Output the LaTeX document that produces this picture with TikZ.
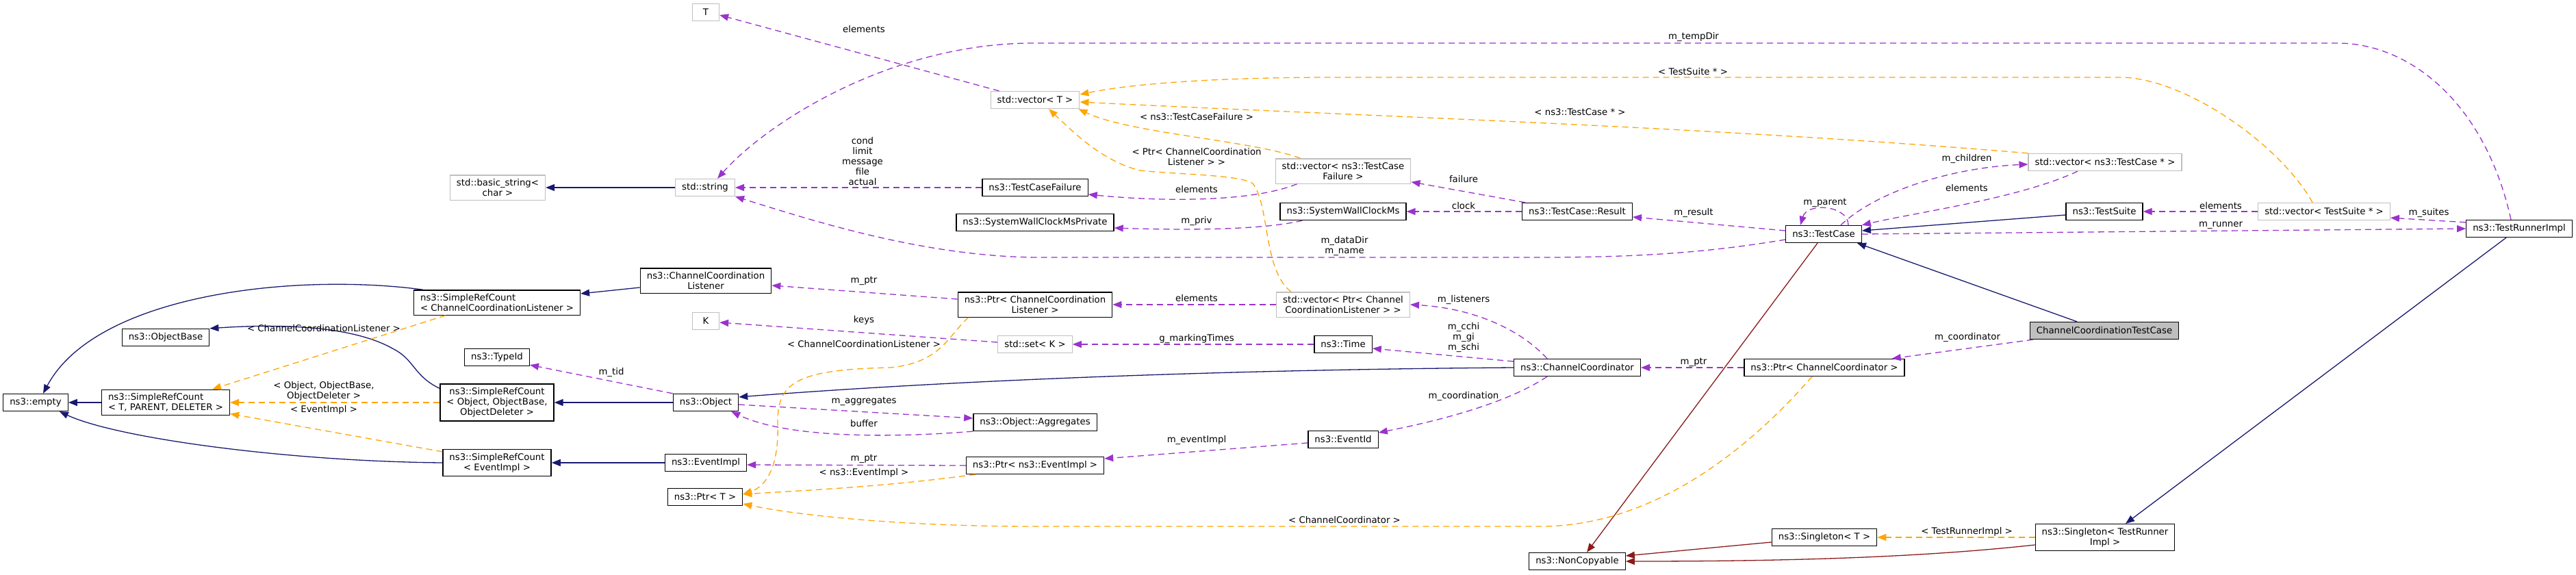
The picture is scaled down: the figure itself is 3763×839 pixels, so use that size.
\documentclass[tikz,border=0pt]{standalone}
\usepackage{fontspec}
\setmainfont{DejaVu Sans}
\usetikzlibrary{arrows.meta}
\definecolor{inhblue}{HTML}{191970}
\definecolor{privred}{HTML}{8B1A1A}
\definecolor{usepurple}{HTML}{9A32CD}
\definecolor{tmplorange}{HTML}{FFA500}
\definecolor{extgrey}{HTML}{BFBFBF}
\newcommand{\diafont}{\fontsize{13.3}{15}\selectfont}

\begin{document}
\begin{tikzpicture}[x=1pt, y=-1pt,
    cls/.style={rectangle, draw=black, line width=1.3pt, fill=white, font=\diafont, align=center,
        inner xsep=9.5pt, inner ysep=5.5pt, minimum height=25pt, minimum width=39pt},
    ext/.style={cls, draw=extgrey},
    hilite/.style={cls, fill=extgrey},
    lbl/.style={font=\diafont, align=center, inner sep=0pt},
    arrowhd/.style={-{Triangle[length=13pt, width=10pt]}},
    inh/.style={arrowhd, draw=inhblue, line width=1.3pt},
    priv/.style={arrowhd, draw=privred, line width=1.3pt},
    use/.style={arrowhd, draw=usepurple, line width=1.3pt, dash pattern=on 9pt off 6pt},
    tmpl/.style={arrowhd, draw=tmplorange, line width=1.3pt, dash pattern=on 9pt off 6pt}]
    \useasboundingbox (0, 0) rectangle (3763, 839);

    \node (empty) at (52, 588) [cls] {ns3::empty};
    \node (objbase) at (242, 493) [cls] {ns3::ObjectBase};
    \node (srcTPD) at (242, 588) [cls, align=left] {ns3::SimpleRefCount\\< T, PARENT, DELETER >};
    \node (srcCCL) at (726, 442) [cls, align=left] {ns3::SimpleRefCount\\< ChannelCoordinationListener >};
    \node (basicstr) at (727, 274) [ext] {std::basic\_string<\\char >};
    \node (typeid) at (726, 522) [cls] {ns3::TypeId};
    \node (srcObj) at (726, 588) [cls] {ns3::SimpleRefCount\\< Object, ObjectBase,\\ObjectDeleter >};
    \node (srcEvt) at (726, 676) [cls] {ns3::SimpleRefCount\\< EventImpl >};
    \node (tT) at (1031, 18) [ext] {T};
    \node (stdstr) at (1030, 274) [ext] {std::string};
    \node (ccl) at (1031, 410) [cls] {ns3::ChannelCoordination\\Listener};
    \node (kK) at (1031, 469) [ext] {K};
    \node (object) at (1031, 588) [cls] {ns3::Object};
    \node (eventimpl) at (1031, 676) [cls] {ns3::EventImpl};
    \node (ptrT) at (1030, 726) [cls] {ns3::Ptr< T >};
    \node (vecT) at (1512, 146) [ext] {std::vector< T >};
    \node (tcfail) at (1512, 274) [cls] {ns3::TestCaseFailure};
    \node (swcmPriv) at (1512, 325) [cls] {ns3::SystemWallClockMsPrivate};
    \node (ptrCCL) at (1512, 445) [cls] {ns3::Ptr< ChannelCoordination\\Listener >};
    \node (setK) at (1512, 503) [ext] {std::set< K >};
    \node (aggr) at (1512, 617) [cls] {ns3::Object::Aggregates};
    \node (ptrEvt) at (1512, 680) [cls] {ns3::Ptr< ns3::EventImpl >};
    \node (vecTCF) at (1962, 250) [ext] {std::vector< ns3::TestCase\\Failure >};
    \node (swcm) at (1962, 309) [cls] {ns3::SystemWallClockMs};
    \node (vecPtrCCL) at (1962, 445) [ext] {std::vector< Ptr< Channel\\CoordinationListener > >};
    \node (timeN) at (1962, 503) [cls] {ns3::Time};
    \node (eventid) at (1962, 642) [cls] {ns3::EventId};
    \node (result) at (2304, 309) [cls] {ns3::TestCase::Result};
    \node (ccoord) at (2304, 537) [cls] {ns3::ChannelCoordinator};
    \node (noncopy) at (2304, 820) [cls] {ns3::NonCopyable};
    \node (testcase) at (2664, 342) [cls] {ns3::TestCase};
    \node (ptrCC) at (2665, 537) [cls] {ns3::Ptr< ChannelCoordinator >};
    \node (singT) at (2665, 785) [cls] {ns3::Singleton< T >};
    \node (vecTC) at (3075, 237) [ext] {std::vector< ns3::TestCase * >};
    \node (testsuite) at (3074, 309) [cls] {ns3::TestSuite};
    \node (cctc) at (3074, 483) [hilite] {ChannelCoordinationTestCase};
    \node (singTRI) at (3075, 785) [cls] {ns3::Singleton< TestRunner\\Impl >};
    \node (vecTS) at (3395, 309) [ext] {std::vector< TestSuite * >};
    \node (runner) at (3680, 334) [cls] {ns3::TestRunnerImpl};

    \draw[inh] (srcTPD) -- (empty);
    \draw[inh] ([xshift=14pt]srcCCL.north west) .. controls (430, 398) and (140, 430) .. ([xshift=11pt]empty.north);
    \draw[inh] ([yshift=-7pt]srcObj.north west) .. controls (605, 550) and (605, 525) .. (575, 510)
        .. controls (520, 478) and (420, 472) .. (objbase.north east);
    \draw[tmpl] (srcObj) -- (srcTPD);
    \draw[tmpl] ([xshift=47pt]srcCCL.south west) -- ([xshift=-26pt]srcTPD.north east);
    \draw[tmpl] ([yshift=-4pt]srcEvt.north west) -- ([yshift=3pt]srcTPD.south east);
    \draw[inh] (srcEvt.west) .. controls (420, 674) and (170, 640) .. ([xshift=-13pt]empty.south east);
    \draw[inh] (stdstr) -- (basicstr);
    \draw[inh] ([yshift=-10pt]ccl.west) -- ([yshift=13pt]srcCCL.east);
    \draw[inh] (object) -- (srcObj);
    \draw[inh] (eventimpl) -- (srcEvt);
    \draw[inh] (ccoord.west) .. controls (1800, 540) and (1400, 555) .. ([yshift=8pt]object.east);

    \draw[use] ([xshift=13pt]vecT.north west) -- ([yshift=-4pt]tT.east);
    \draw[use] ([xshift=-12pt]runner.north) .. controls (3630, 150) and (3520, 63) .. (3414, 63) -- (1510, 63)
        .. controls (1300, 63) and (1120, 180) .. ([xshift=18pt]stdstr.north);
    \draw[use] (tcfail) -- (stdstr);
    \draw[use] ([yshift=-8pt]testcase.west) .. controls (2500, 368) and (2400, 376) .. (2250, 376) -- (1520, 376)
        .. controls (1350, 376) and (1180, 320) .. (stdstr.south east);
    \draw[use] ([xshift=32pt]vecTCF.south west) .. controls (1830, 295) and (1700, 295) .. ([yshift=-10pt]tcfail.east);
    \draw[use] ([xshift=33pt]swcm.south west) .. controls (1840, 337) and (1720, 336) .. ([yshift=-8pt]swcmPriv.east);
    \draw[use] ([xshift=5pt]result.north west) -- ([yshift=3pt]vecTCF.south east);
    \draw[use] (result) -- (swcm);
    \draw[tmpl] ([xshift=37pt]vecTCF.north west) .. controls (1830, 205) and (1650, 195) .. ([xshift=-2pt]vecT.south east);
    \draw[tmpl] ([xshift=22pt]vecPtrCCL.north west) .. controls (1845, 395) and (1855, 300) .. (1830, 268)
        .. controls (1810, 255) and (1720, 255) .. (1665, 249) .. controls (1610, 235) and (1570, 195) .. ([xshift=20pt]vecT.south);
    \draw[tmpl] (vecTC.north west) .. controls (2500, 185) and (2000, 170) .. ([yshift=-3pt]vecT.east);
    \draw[tmpl] ([xshift=80pt]vecTS.north west) .. controls (3330, 210) and (3190, 113) .. (3097, 113) -- (1950, 113)
        .. controls (1750, 113) and (1640, 125) .. ([yshift=8pt]vecT.east);

    \draw[use] ([xshift=25pt]testcase.north) .. controls (2740, 280) and (2850, 245) .. ([yshift=-3pt]vecTC.west);
    \draw[use] ([xshift=-40pt]vecTC.south) .. controls (2950, 290) and (2800, 310) .. (testcase.north east);
    \draw[use] ([xshift=36pt]testcase.north) .. controls (2700, 300) and (2640, 295) .. ([xshift=-34pt]testcase.north);
    \draw[use] ([yshift=5pt]testcase.west) -- ([yshift=-8pt]result.east);
    \draw[inh] ([yshift=-5pt]testsuite.west) -- ([yshift=5pt]testcase.east);
    \draw[use] (vecTS) -- (testsuite);
    \draw[use] ([yshift=-4pt]runner.north west) -- ([yshift=4pt]vecTS.south east);
    \draw[use] (testcase.east) -- (runner.west);
    \draw[inh] ([xshift=-40pt]cctc.north) -- ([xshift=-7pt]testcase.south east);
    \draw[priv] ([xshift=-9pt]testcase.south) -- ([xshift=14pt]noncopy.north);
    \draw[inh] ([xshift=-19pt]runner.south) -- ([xshift=30pt]singTRI.north);
    \draw[priv] ([yshift=-7pt]singT.west) -- ([yshift=8pt]noncopy.east);
    \draw[priv] ([yshift=-11pt]singTRI.west) .. controls (2800, 815) and (2600, 820) .. (noncopy.east);
    \draw[tmpl] (singTRI) -- (singT);
    \draw[use] ([xshift=5pt]cctc.south west) -- ([xshift=-19pt]ptrCC.north east);
    \draw[use] (ptrCC) -- (ccoord);
    \draw[tmpl] ([xshift=-18pt]ptrCC.south) .. controls (2560, 650) and (2420, 769) .. (2250, 769) -- (1510, 769)
        .. controls (1300, 769) and (1150, 750) .. ([yshift=-10pt]ptrT.east);

    \draw[use] ([yshift=8pt]ptrCCL.west) -- ([yshift=-7pt]ccl.east);
    \draw[tmpl] ([xshift=16pt]ptrCCL.south west) .. controls (1385, 490) and (1375, 530) .. (1300, 537)
        .. controls (1160, 540) and (1135, 560) .. (1136, 620) .. controls (1138, 680) and (1120, 710) .. ([yshift=4pt]ptrT.east);
    \draw[use] (vecPtrCCL) -- (ptrCCL);
    \draw[use] ([yshift=3pt]setK.west) -- ([yshift=-2pt]kK.east);
    \draw[use] (timeN) -- (setK);
    \draw[use] ([xshift=-44pt]ccoord.north) .. controls (2220, 480) and (2150, 450) .. (vecPtrCCL.east);
    \draw[use] ([yshift=9pt]ccoord.west) -- ([yshift=-6pt]timeN.east);
    \draw[use] ([xshift=-44pt]ccoord.south) .. controls (2200, 590) and (2100, 615) .. ([yshift=10pt]eventid.east);
    \draw[use] ([yshift=-5pt]eventid.west) -- ([yshift=10pt]ptrEvt.east);
    \draw[use] (ptrEvt.west) -- ([yshift=-3pt]eventimpl.east);
    \draw[tmpl] ([xshift=14pt]ptrEvt.south west) .. controls (1300, 710) and (1200, 715) .. ([yshift=4pt]ptrT.east);
    \draw[use] (object.north west) -- ([yshift=2pt]typeid.south east);
    \draw[use] ([yshift=-3pt]object.east) -- ([yshift=6pt]aggr.west);
    \draw[use] (aggr.south west) .. controls (1300, 640) and (1150, 640) .. ([xshift=-11pt]object.south east);

    \node (lbElemT) at (1262, 43) [lbl] {elements};
    \node (lbTempDir) at (2474, 54) [lbl] {m\_tempDir};
    \node (lbTSuite) at (2473, 105) [lbl] {< TestSuite * >};
    \node (lbTCase) at (2308, 164) [lbl] {< ns3::TestCase * >};
    \node (lbTCF) at (1748, 171) [lbl] {< ns3::TestCaseFailure >};
    \node (lbPtrList) at (1748, 229) [lbl] {< Ptr< ChannelCoordination\\Listener > >};
    \node (lbCond) at (1260, 236) [lbl] {cond\\limit\\message\\file\\actual};
    \node (lbElemTCF) at (1748, 277) [lbl] {elements};
    \node (lbFailure) at (2138, 262) [lbl] {failure};
    \node (lbClock) at (2138, 301) [lbl] {clock};
    \node (lbPriv) at (1748, 323) [lbl] {m\_priv};
    \node (lbDataDir) at (1964, 360) [lbl] {m\_dataDir\\m\_name};
    \node (lbChildren) at (2873, 232) [lbl] {m\_children};
    \node (lbElemTC) at (2873, 275) [lbl] {elements};
    \node (lbParent) at (2666, 296) [lbl] {m\_parent};
    \node (lbResult) at (2474, 311) [lbl] {m\_result};
    \node (lbElemTS) at (3244, 301) [lbl] {elements};
    \node (lbSuites) at (3548, 311) [lbl] {m\_suites};
    \node (lbRunner) at (3244, 329) [lbl] {m\_runner};
    \node (lbCoordinator) at (2874, 493) [lbl] {m\_coordinator};
    \node (lbPtrCC) at (2474, 529) [lbl] {m\_ptr};
    \node (lbChanCoord) at (1964, 760) [lbl] {< ChannelCoordinator >};
    \node (lbPtrCCL) at (1262, 410) [lbl] {m\_ptr};
    \node (lbListenerT) at (1262, 503) [lbl] {< ChannelCoordinationListener >};
    \node (lbElemPCCL) at (1748, 436) [lbl] {elements};
    \node (lbKeys) at (1262, 468) [lbl] {keys};
    \node (lbMarking) at (1748, 495) [lbl] {g\_markingTimes};
    \node (lbListeners) at (2138, 438) [lbl] {m\_listeners};
    \node (lbTimes) at (2138, 493) [lbl] {m\_cchi\\m\_gi\\m\_schi};
    \node (lbCoordination) at (2138, 579) [lbl] {m\_coordination};
    \node (lbEventImplM) at (1748, 643) [lbl] {m\_eventImpl};
    \node (lbPtrEvt) at (1262, 670) [lbl] {m\_ptr};
    \node (lbNsEvt) at (1262, 691) [lbl] {< ns3::EventImpl >};
    \node (lbTid) at (893, 544) [lbl] {m\_tid};
    \node (lbAggr) at (1262, 586) [lbl] {m\_aggregates};
    \node (lbBuffer) at (1262, 619) [lbl] {buffer};
    \node (lbSingTRI) at (2873, 777) [lbl] {< TestRunnerImpl >};
    \node (lbSrcCCL) at (473, 480) [lbl] {< ChannelCoordinationListener >};
    \node (lbSrcObj) at (473, 571) [lbl] {< Object, ObjectBase,\\ObjectDeleter >};
    \node (lbSrcEvt) at (473, 599) [lbl] {< EventImpl >};
\end{tikzpicture}
\end{document}
